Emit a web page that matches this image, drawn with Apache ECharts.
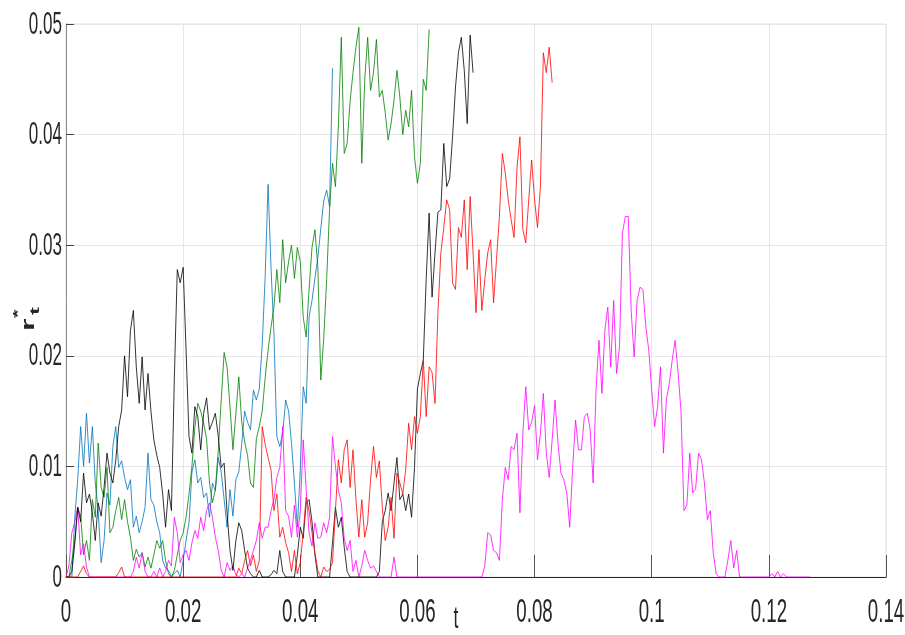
<!DOCTYPE html>
<html>
<head>
<meta charset="utf-8">
<script src="https://cdn.jsdelivr.net/npm/echarts/dist/echarts.min.js"></script>
<style>
html,body{margin:0;padding:0;background:#fff;}
#c{width:905px;height:635px;}
</style>
</head>
<body>
<div id="c"></div>
<script>
// sampling step of the simulated paths (t axis)
const dt = 0.0005;

// axis ticks
const xTickValues = [0, 0.02, 0.04, 0.06, 0.08, 0.1, 0.12, 0.14];
const xTickLabels = ['0', '0.02', '0.04', '0.06', '0.08', '0.1', '0.12', '0.14'];
const yTickValues = [0, 0.01, 0.02, 0.03, 0.04, 0.05];
const yTickLabels = ['0', '0.01', '0.02', '0.03', '0.04', '0.05'];

const blueR = [0,0,0,0.0054,0.0088,0.0136,0.01,0.0148,0.0103,0.0136,
0.0085,0.006,0.0013,0.0033,0.0076,0.0065,0.0118,0.0136,0.0099,0.0105,
0.009,0.0079,0.0088,0.0045,0.0055,0.004,0.005,0.0063,0.0112,0.007,
0.0065,0.005,0.004,0.0015,0.0008,0.0006,0,0.0003,0.0006,0,
0.0015,0.0033,0.0049,0.0095,0.0106,0.0085,0.009,0.0072,0.0076,0.0054,
0.0085,0.0078,0.0108,0.0095,0.007,0.0045,0.0079,0.0055,0.0088,0.0095,
0.012,0.015,0.014,0.0133,0.0169,0.016,0.017,0.021,0.0271,0.0355,
0.028,0.022,0.0127,0.0118,0.013,0.016,0.015,0.0121,0.0085,0.0045,
0.0097,0.0172,0.0157,0.0235,0.025,0.027,0.0289,0.0315,0.034,0.035,
0.0335,0.046];

const greenR = [0,0,0.0015,0.0033,0.0063,0.0055,0.002,0.0033,0.0015,0.007,
0.0054,0.0121,0.0081,0.0072,0.0099,0.004,0.0045,0.006,0.0072,0.0052,
0.007,0.005,0.0036,0.0015,0.0025,0.0018,0.0022,0.0009,0.0018,0.0008,
0.002,0.0033,0.0026,0.0033,0.0015,0.0003,0,0.0006,0.002,0.0033,
0.004,0.0054,0.0075,0.01,0.0135,0.0157,0.015,0.0139,0.0125,0.0085,
0.0067,0.0079,0.0115,0.016,0.0203,0.019,0.0154,0.0115,0.0148,0.0181,
0.014,0.0122,0.011,0.0085,0.0081,0.0125,0.0136,0.015,0.018,0.0205,
0.0226,0.0244,0.0278,0.0248,0.0305,0.0266,0.0285,0.03,0.027,0.0298,
0.0285,0.0235,0.0217,0.026,0.0298,0.0314,0.028,0.0178,0.0215,0.0269,
0.0332,0.0374,0.0353,0.0407,0.0488,0.0383,0.0392,0.043,0.0456,0.0479,
0.0497,0.0374,0.0449,0.0488,0.044,0.0456,0.0486,0.0434,0.044,0.042,
0.0395,0.041,0.0431,0.0458,0.0434,0.04,0.0422,0.0407,0.044,0.038,
0.0356,0.0374,0.045,0.044,0.0495];

const blackR = [0,0,0.0005,0.003,0.0063,0.005,0.0094,0.0067,0.0075,0.0058,
0.0033,0.0067,0.0055,0.0081,0.0112,0.0094,0.0085,0.0106,0.0136,0.0151,
0.02,0.0163,0.0223,0.0241,0.019,0.0157,0.0199,0.0151,0.0184,0.015,
0.0124,0.011,0.0099,0.0075,0.0045,0.0079,0.006,0.018,0.0278,0.0266,
0.028,0.0205,0.0127,0.0112,0.0154,0.0145,0.0115,0.0148,0.0162,0.0133,
0.014,0.0148,0.0127,0.0099,0.0103,0.0058,0.0024,0.0006,0.0033,0.0049,
0.0042,0.0024,0.0008,0.0003,0,0,0.0006,0,0,0,
0.0002,0.0006,0.0003,0.0024,0.0005,0,0,0,0,0.002,
0.0045,0.0035,0.0067,0.007,0.005,0.002,0,0,0,0,
0,0.0031,0.0063,0.0045,0.0054,0.0027,0.0005,0,0,0,
0,0,0,0,0,0,0,0.0005,0.005,0.006,
0.0076,0.006,0.0085,0.0108,0.007,0.0075,0.006,0.0075,0.0054,0.0099,
0.017,0.0184,0.0196,0.027,0.0329,0.0253,0.0293,0.033,0.0332,0.0392,
0.0353,0.036,0.0398,0.0443,0.0474,0.0488,0.0458,0.041,0.049,0.0456];

const redR = [0,0,0,0,0,0.0005,0.001,0.0003,0,0,
0,0,0,0,0,0,0,0,0.0004,0.0009,
0,0,0,0,0,0,0,0,0,0,
0,0,0,0,0,0,0,0,0,0,
0,0,0,0,0,0,0,0,0,0,
0,0,0,0,0,0,0,0,0,0.0008,
0.0003,0.0015,0.0024,0.001,0.002,0.0005,0.0015,0.0136,0.012,0.0108,
0.0097,0.006,0.0075,0.0036,0.0045,0.0031,0.0022,0.0005,0.0024,0.0003,
0.0013,0.004,0.0072,0.006,0.004,0.0022,0.0006,0,0.0009,0.0005,
0.0007,0.0013,0.006,0.0106,0.0085,0.0115,0.0124,0.0081,0.0115,0.007,
0.0036,0.007,0.0036,0.0049,0.0088,0.0118,0.009,0.0105,0.0063,0.0033,
0.0045,0.0072,0.0035,0.0094,0.0085,0.0075,0.0097,0.0139,0.0115,0.0145,
0.013,0.0145,0.0196,0.0145,0.019,0.0185,0.0157,0.0239,0.0293,0.0316,
0.0341,0.0332,0.0266,0.026,0.0316,0.0307,0.0341,0.0278,0.0344,0.0293,
0.0239,0.0296,0.0241,0.0269,0.0293,0.0305,0.0248,0.0287,0.0326,0.0383,
0.0365,0.0341,0.0323,0.0307,0.037,0.0398,0.0314,0.0302,0.0341,0.0377,
0.0341,0.0316,0.0353,0.0474,0.0456,0.0479,0.0447];

const magentaR = [0,0.001,0.004,0.005,0.0063,0.002,0.003,0.0009,0,0,
0,0,0,0,0,0,0,0,0,0,
0,0,0,0.0005,0.0018,0.0008,0.0022,0.0005,0,0,
0.0005,0,0.0008,0,0.0005,0.0015,0.001,0.0054,0.004,0.0013,
0.002,0.0024,0.0015,0.0031,0.0042,0.0035,0.0054,0.0042,0.006,0.0067,
0.0054,0.0036,0.0024,0.0006,0,0.0013,0.0006,0.001,0.0002,0,
0.0003,0,0.0008,0.0015,0.0024,0.0033,0.0049,0.0035,0.0045,0.0045,
0.006,0.007,0.009,0.0099,0.0136,0.006,0.0055,0.0036,0.0065,0.0036,
0.006,0.0124,0.008,0.004,0.0028,0.0049,0.0035,0.0036,0.0049,0.004,
0.0054,0.0127,0.01,0.0079,0.0067,0.0035,0.0024,0.0033,0.0005,0.0015,
0,0.001,0.0024,0.0015,0.0008,0.001,0.0005,0,0,0,
0,0,0.0018,0,0,0,0,0,0,0,
0,0,0,0,0,0,0,0,0,0,
0,0,0,0,0,0,0,0,0,0,
0,0,0,0.001,0.004,0.0038,0.0024,0.0022,0.0015,0.007,
0.0099,0.0088,0.0118,0.0115,0.013,0.0058,0.013,0.0172,0.0133,0.014,
0.0155,0.0106,0.013,0.0166,0.0112,0.009,0.0124,0.016,0.0121,0.0094,
0.0088,0.0076,0.0045,0.0099,0.0142,0.0115,0.0115,0.0145,0.0148,0.0133,
0.0085,0.017,0.0214,0.0166,0.0223,0.0244,0.019,0.025,0.0184,0.0208,
0.0311,0.0326,0.0326,0.024,0.0199,0.025,0.0262,0.026,0.0226,0.0205,
0.0169,0.0136,0.0154,0.019,0.0112,0.016,0.0175,0.0196,0.0214,0.0185,
0.015,0.006,0.0065,0.0112,0.0076,0.008,0.0112,0.0106,0.0085,0.0052,
0.006,0.0022,0.0003,0,0,0,0.0015,0.0033,0.0008,0.0024,
0,0,0,0,0,0,0,0,0,0,
0,0.0003,0,0.0005,0,0.0003,0,0,0,0,
0,0,0,0,0];

const seriesDefs = [
  {name: 'blue', values: blueR, color: '#0072BD'},
  {name: 'green', values: greenR, color: '#008000'},
  {name: 'magenta', values: magentaR, color: '#FF00FF'},
  {name: 'black', values: blackR, color: '#000000'},
  {name: 'red', values: redR, color: '#FF0000'}
];

function toPairs(vals) {
  return vals.map((v, i) => [Number((i * dt).toFixed(4)), v]);
}

const LABEL_FONT = '"Liberation Sans", Arial, sans-serif';
const SQUEEZE = 0.55;

const chart = echarts.init(document.getElementById('c'), null, {renderer: 'canvas'});
chart.setOption({
  animation: false,
  backgroundColor: '#ffffff',
  grid: {left: 66, right: 19, top: 24, bottom: 58, show: true, borderColor: '#e3e3e3', borderWidth: 1, backgroundColor: 'transparent'},
  xAxis: {
    type: 'value', min: 0, max: 0.14, interval: 0.02,
    axisLine: {onZero: false, lineStyle: {color: '#262626', width: 1}},
    axisTick: {inside: true, length: 22, lineStyle: {color: '#555555', width: 1}},
    axisLabel: {show: false},
    splitLine: {show: true, lineStyle: {color: '#e6e6e6', width: 1}}
  },
  yAxis: {
    type: 'value', min: 0, max: 0.05, interval: 0.01,
    axisLine: {show: true, lineStyle: {color: '#8c8c8c', width: 1}},
    axisTick: {show: true, inside: true, length: 8, lineStyle: {color: '#444444', width: 1}},
    axisLabel: {show: false},
    splitLine: {show: true, lineStyle: {color: '#e6e6e6', width: 1}}
  },
  series: seriesDefs.map(s => ({
    name: s.name, type: 'line', data: toPairs(s.values),
    showSymbol: false, symbol: 'none', smooth: false,
    lineStyle: {color: s.color, width: 0.8},
    itemStyle: {color: s.color},
    emphasis: {disabled: true}
  }))
});

// tick labels and axis names as real text, horizontally condensed like the reference
const g = [];
xTickValues.forEach((v, k) => {
  const p = chart.convertToPixel({xAxisIndex: 0, yAxisIndex: 0}, [v, 0]);
  g.push({type: 'text', x: p[0], y: p[1] + 36, scaleX: SQUEEZE, silent: true,
    style: {text: xTickLabels[k], fontFamily: LABEL_FONT, fontSize: 34, fill: '#262626', align: 'center', verticalAlign: 'middle'}});
});
yTickValues.forEach((v, k) => {
  const p = chart.convertToPixel({xAxisIndex: 0, yAxisIndex: 0}, [0, v]);
  g.push({type: 'text', x: p[0] - 4, y: p[1] + 1, scaleX: SQUEEZE, silent: true,
    style: {text: yTickLabels[k], fontFamily: LABEL_FONT, fontSize: 31, fill: '#262626', align: 'right', verticalAlign: 'middle'}});
});
// x axis name "t"
g.push({type: 'text', x: 456, y: 619, scaleX: SQUEEZE, silent: true,
  style: {text: 't', fontFamily: LABEL_FONT, fontSize: 32, fill: '#262626', align: 'center', verticalAlign: 'middle'}});
// y axis name r*_t (rotated)
g.push({type: 'group', x: 29, y: 331, rotation: Math.PI / 2, scaleY: SQUEEZE, silent: true,
  children: [
    {type: 'text', x: 0, y: 0, style: {text: 'r', fontFamily: LABEL_FONT, fontWeight: 'bold', fontSize: 32, fill: '#262626', align: 'left', verticalAlign: 'middle'}},
    {type: 'text', x: 13, y: -18, style: {text: '*', fontFamily: LABEL_FONT, fontWeight: 'bold', fontSize: 22, fill: '#262626', align: 'left', verticalAlign: 'middle'}},
    {type: 'text', x: 16, y: 11, style: {text: 't', fontFamily: LABEL_FONT, fontWeight: 'bold', fontSize: 24, fill: '#262626', align: 'left', verticalAlign: 'middle'}}
  ]});
chart.setOption({graphic: g});
</script>
</body>
</html>
